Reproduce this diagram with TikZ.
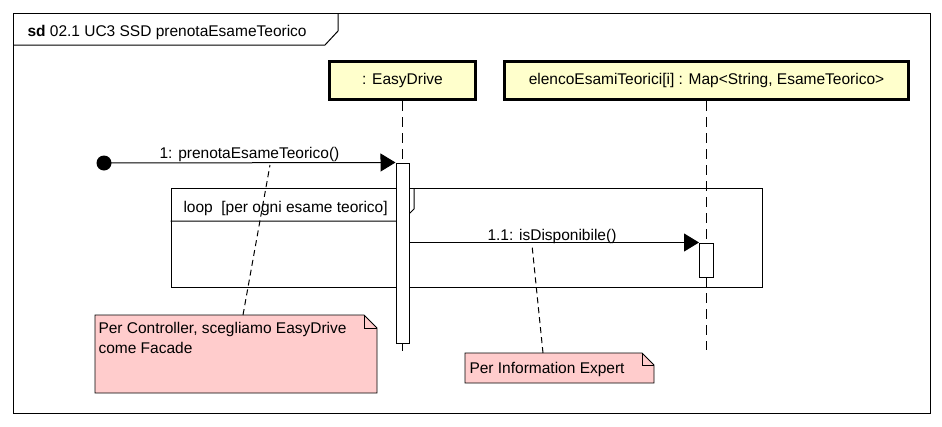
\documentclass[tikz,border=0pt]{standalone}
\usepackage{fontspec}
\setmainfont{Liberation Sans}
\usetikzlibrary{arrows.meta,calc}
\definecolor{headfill}{HTML}{FFFFCC}
\definecolor{notefill}{HTML}{FFCCCC}
\begin{document}
\begin{tikzpicture}[x=1pt,y=-1pt,
  font=\fontsize{15.5}{19}\selectfont,
  line width=1pt,
  lifehead/.style={draw, line width=3pt, fill=headfill, inner sep=0pt,
    text height=11pt, text depth=3pt},
  lifeline/.style={line width=1pt, dash pattern=on 10pt off 6pt},
  actbar/.style={draw, fill=white, inner sep=0pt, minimum width=13pt},
  msg/.style={-{Triangle[length=15pt,width=18pt]}},
  notelink/.style={line width=1pt, dash pattern=on 6pt off 4pt},
  noteshape/.style={draw=black, fill=notefill, line width=0.9pt, line join=miter},
  lbl/.style={anchor=base, inner sep=0pt},
  txt/.style={anchor=base west, inner sep=0pt}]

\useasboundingbox (0,0) rectangle (942,426);

% outer sequence-diagram frame with its title tab
\node[draw, minimum width=917pt, minimum height=400pt, inner sep=0pt] (frame) at (471.5,213) {};
\draw (13,45) -- (325,45) -- (338,31) -- (338,13);
\node[txt] (title) at (27,36) {\textbf{sd} 02.1 UC3 SSD prenotaEsameTeorico};

% lifeline heads
\node[lifehead, minimum width=146pt, minimum height=38pt] (ed) at (402.5,80.5) {: EasyDrive};
\node[lifehead, minimum width=404pt, minimum height=38pt] (el) at (706.5,80.5)
  {elencoEsamiTeorici[i] : Map<String, EsameTeorico>};

% lifelines
\coordinate (edEnd) at (402.5,356);
\coordinate (elEnd) at (706.5,350);
\draw[lifeline] (ed.south) -- (edEnd);
\draw[lifeline] (el.south) -- (elEnd);

% loop combined fragment
\node[draw, minimum width=591pt, minimum height=99pt, inner sep=0pt] (loop) at (466.5,237.5) {};
\draw (loop.west |- 0,221) -- (402,221) -- (414,209) -- (414,188);
\node[txt] (looptxt) at (183,212) {loop\ \ [per ogni esame teorico]};

% activation bars
\node[actbar, minimum height=180pt] (act1) at (402.5,253) {};
\node[actbar, minimum width=14pt, minimum height=34pt] (act2) at (706.5,260) {};

% found message 1
\node[circle, fill=black, minimum size=15pt, inner sep=0pt] (start) at (104,163) {};
\draw[msg] (start.center) -- (act1.north west);
\node[lbl] (m1) at (249.5,158) {1: prenotaEsameTeorico()};

% message 1.1
\draw[msg] (act1.east |- act2.north) -- (act2.north west);
\node[lbl] (m2) at (552,240) {1.1: isDisponibile()};

% note: controller
\fill[noteshape] (95,315) -- (364,315) -- (377,328) -- (377,393) -- (95,393) -- cycle;
\draw[line width=0.9pt] (364,315) -- (364,328) -- (377,328);
\node[txt] (n1a) at (98,333) {Per Controller, scegliamo EasyDrive};
\node[txt] (n1b) at (98,353) {come Facade};
\coordinate (n1top) at (243,315);
\coordinate (m1foot) at (270,165);
\draw[notelink] (n1top) -- (m1foot);

% note: information expert
\fill[noteshape] (465,353) -- (642,353) -- (654,365) -- (654,383) -- (465,383) -- cycle;
\draw[line width=0.9pt] (642,353) -- (642,365) -- (654,365);
\node[txt] (n2) at (469,373) {Per Information Expert};
\coordinate (n2top) at (543,353);
\coordinate (m2foot) at (532,245);
\draw[notelink] (n2top) -- (m2foot);

\end{tikzpicture}
\end{document}
